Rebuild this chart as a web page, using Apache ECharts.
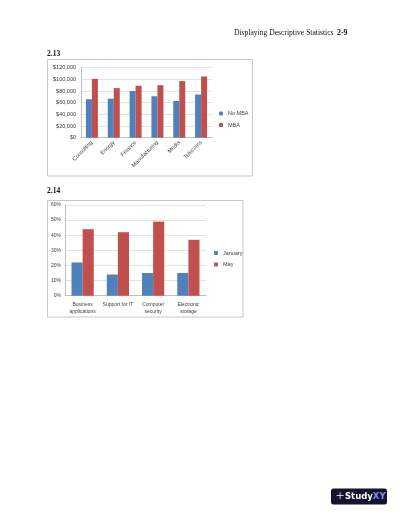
<!DOCTYPE html>
<html><head><meta charset="utf-8">
<script src="https://cdn.jsdelivr.net/npm/echarts@6/dist/echarts.min.js"></script>
<style>html,body{margin:0;padding:0;background:#fff}#c{width:400px;height:518px}</style>
</head><body><div id="c"></div>
<script>
const industries = ['Consulting','Energy','Finance','Manufacturing','Media','Telecoms'];
const noMBA = [66000, 67000, 80000, 71000, 63000, 74000];
const mba = [101000, 85000, 89000, 90000, 97000, 105000];
const skills = ['Business\napplications','Support for IT','Computer\nsecurity','Electronic\nstorage'];
const january = [22, 14, 15, 15];
const may = [44, 42, 49, 37];
const BLUE = '#4F81BD', RED = '#C0504D';
const lab = {fontFamily:'Liberation Sans, Arial, sans-serif', fontSize:5.5, color:'#404040'};
const chart = echarts.init(document.getElementById('c'), null, {renderer:'canvas'});
chart.setOption({
  backgroundColor:'#fff',
  animation:false,
  grid:[
    {left:81, top:67.7, width:131, height:70},
    {left:65, top:205, width:141, height:90.7}
  ],
  legend:[
    {data:['No MBA','MBA'], left:219, top:110.5, orient:'vertical', itemWidth:4, itemHeight:4, itemGap:5.5, textStyle:lab, padding:0},
    {data:['January','May'], left:214, top:250, orient:'vertical', itemWidth:4, itemHeight:4, itemGap:5.5, textStyle:lab, padding:0}
  ],
  xAxis:[
    {type:'category', gridIndex:0, data:industries, axisTick:{show:false},
     axisLine:{lineStyle:{color:'#bfbfbf'}},
     axisLabel:Object.assign({rotate:45, margin:4, interval:0}, lab)},
    {type:'category', gridIndex:1, data:skills, axisTick:{show:false},
     axisLine:{lineStyle:{color:'#bfbfbf'}},
     axisLabel:Object.assign({margin:5, interval:0, lineHeight:7}, lab, {fontSize:5})}
  ],
  yAxis:[
    {type:'value', gridIndex:0, min:0, max:120000, interval:20000,
     axisLine:{show:true, lineStyle:{color:'#bfbfbf'}}, axisTick:{show:false},
     splitLine:{lineStyle:{color:'#d0d0d0', width:0.6}},
     axisLabel:Object.assign({margin:5, formatter:v=>'$'+v.toLocaleString('en-US')}, lab)},
    {type:'value', gridIndex:1, min:0, max:60, interval:10,
     axisLine:{show:true, lineStyle:{color:'#bfbfbf'}}, axisTick:{show:false},
     splitLine:{lineStyle:{color:'#d0d0d0', width:0.6}},
     axisLabel:Object.assign({margin:4, formatter:v=>v+'%'}, lab, {fontSize:5})}
  ],
  series:[
    {name:'No MBA', type:'bar', xAxisIndex:0, yAxisIndex:0, data:noMBA, itemStyle:{color:BLUE}, barGap:'0%', barCategoryGap:'45%'},
    {name:'MBA', type:'bar', xAxisIndex:0, yAxisIndex:0, data:mba, itemStyle:{color:RED}, barGap:'0%', barCategoryGap:'45%'},
    {name:'January', type:'bar', xAxisIndex:1, yAxisIndex:1, data:january, itemStyle:{color:BLUE}, barGap:'0%', barCategoryGap:'37%'},
    {name:'May', type:'bar', xAxisIndex:1, yAxisIndex:1, data:may, itemStyle:{color:RED}, barGap:'0%', barCategoryGap:'37%'}
  ],
  graphic:[
    {type:'rect', shape:{x:47.5, y:59.5, width:205, height:116.5}, style:{fill:'none', stroke:'#c8c8c8', lineWidth:1}, z:-1},
    {type:'rect', shape:{x:47.5, y:200.5, width:195.5, height:116.5}, style:{fill:'none', stroke:'#c8c8c8', lineWidth:1}, z:-1},
    {type:'text', left:234, top:28.5, style:{text:'Displaying Descriptive Statistics', font:'7.6px "Liberation Serif", serif', fill:'#111'}},
    {type:'text', left:337, top:28.5, style:{text:'2-9', font:'bold 7.8px "Liberation Serif", serif', fill:'#111'}},
    {type:'text', left:47, top:50, style:{text:'2.13', font:'bold 7.5px "Liberation Serif", serif', fill:'#111'}},
    {type:'text', left:47, top:187, style:{text:'2.14', font:'bold 7.5px "Liberation Serif", serif', fill:'#111'}},
    {type:'rect', shape:{x:331, y:488.5, width:56, height:16, r:2.5}, style:{fill:'#14142b'}},
    {type:'text', left:335.5, top:491, style:{text:'+', font:'11px "DejaVu Sans", sans-serif', fill:'#c8c8e8'}},
    {type:'text', left:345, top:492, style:{rich:{a:{font:'bold 8.5px "DejaVu Sans", sans-serif', fill:'#fff'}, b:{font:'bold 8.5px "DejaVu Sans", sans-serif', fill:'#8a8cff'}}, text:'{a|Study}{b|XY}'}}
  ]
});
</script></body></html>
